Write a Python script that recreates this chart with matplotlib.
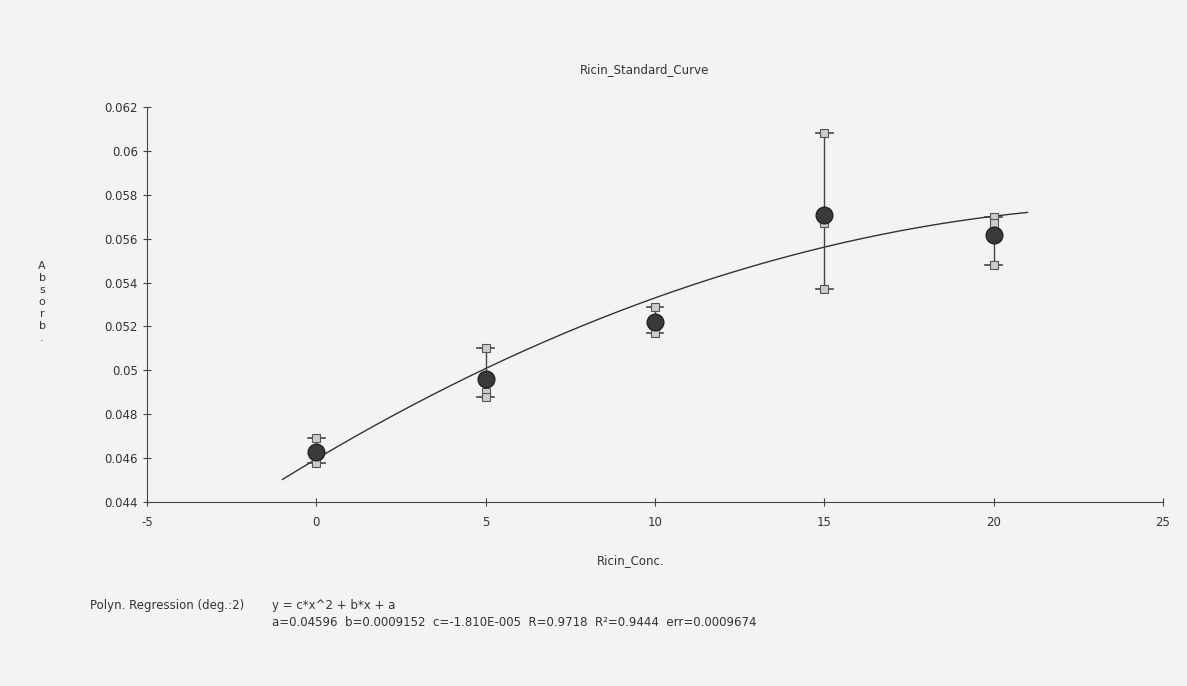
import numpy as np
import matplotlib
matplotlib.use("Agg")
import matplotlib.pyplot as plt

# replicate absorbances per concentration
conc = [0, 5, 10, 15, 20]
replicates = [
    [0.0469, 0.0462, 0.0458],
    [0.0510, 0.0490, 0.0488],
    [0.0529, 0.0520, 0.0517],
    [0.0608, 0.0567, 0.0537],
    [0.0570, 0.0567, 0.0548],
]
# polynomial regression coefficients shown on the chart
coef_a, coef_b, coef_c = 0.04596, 0.0009152, -1.810e-5
fit_range = (-1, 21)

xticks = [-5, 0, 5, 10, 15, 20, 25]
yticks = [0.044, 0.046, 0.048, 0.05, 0.052, 0.054, 0.056, 0.058, 0.06, 0.062]

fig = plt.figure(figsize=(11.87, 6.86), dpi=100, facecolor="#f3f3f3")
ax = fig.add_axes([0.1238, 0.2682, 0.856, 0.5758])
ax.set_facecolor("none")

fx = np.linspace(fit_range[0], fit_range[1], 200)
ax.plot(fx, coef_a + coef_b * fx + coef_c * fx ** 2, color="#333333", lw=1.0)

for x, reps in zip(conc, replicates):
    reps = np.asarray(reps)
    lo, hi, m = reps.min(), reps.max(), reps.mean()
    ax.plot([x, x], [lo, hi], color="#444444", lw=1.0)
    ax.plot([x - 0.25, x + 0.25], [lo, lo], color="#444444", lw=1.2)
    ax.plot([x - 0.25, x + 0.25], [hi, hi], color="#444444", lw=1.2)
    ax.plot([x] * len(reps), reps, "s", ms=6, mfc="#cccccc", mec="#555555", mew=0.8)
    ax.plot(x, m, "o", ms=12, mfc="#3a3a3a", mec="#222222", mew=1.0)

ax.set_xlim(-5, 25)
ax.set_ylim(0.044, 0.062)
ax.set_xticks(xticks)
ax.set_yticks(yticks)
ax.set_xticklabels([str(t) for t in xticks])
ax.set_yticklabels([f"{t:g}" for t in yticks])
ax.spines["top"].set_visible(False)
ax.spines["right"].set_visible(False)
ax.spines["left"].set_color("#444444")
ax.spines["bottom"].set_color("#444444")
ax.tick_params(direction="inout", length=6, width=0.8, colors="#444444",
               labelsize=8.5, labelcolor="#333333")
ax.tick_params(axis="x", pad=7)

fig.text(0.5434, 0.898, "Ricin_Standard_Curve", ha="center", va="center",
         fontsize=8.5, color="#333333")
fig.text(0.5316, 0.183, "Ricin_Conc.", ha="center", va="center",
         fontsize=8.5, color="#333333")
fig.text(0.0354, 0.56, "\n".join("Absorb."), ha="center", va="center",
         fontsize=8, color="#333333", linespacing=1.25)
fig.text(0.0758, 0.118, "Polyn. Regression (deg.:2)", ha="left", va="center",
         fontsize=8.5, color="#333333")
fig.text(0.229, 0.118, "y = c*x^2 + b*x + a", ha="left", va="center",
         fontsize=8.5, color="#333333")
fig.text(0.229, 0.093,
         "a=0.04596  b=0.0009152  c=-1.810E-005  R=0.9718  R\u00b2=0.9444  err=0.0009674",
         ha="left", va="center", fontsize=8.5, color="#333333")

fig.savefig("out.png", dpi=100, facecolor=fig.get_facecolor())
